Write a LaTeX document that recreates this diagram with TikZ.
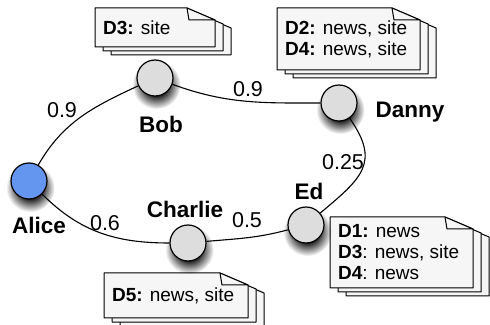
\documentclass[tikz,border=0pt]{standalone}
\usepackage{fontspec}
\setmainfont{Liberation Sans}
\usetikzlibrary{shadows,fadings}
\definecolor{usergray}{HTML}{DDDDDD}
\definecolor{seedblue}{RGB}{100,150,240}
\definecolor{sheetgray}{HTML}{F6F6F6}
\pgfdeclareradialshading{softshade}{\pgfpointorigin}{color(0bp)=(pgftransparent!0);
    color(11bp)=(pgftransparent!0); color(25bp)=(pgftransparent!100); color(50bp)=(pgftransparent!100)}
\pgfdeclarefading{softedge}{\pgfuseshading{softshade}}
\tikzstyle{user} = [draw=black, line width=1.2pt, circle, minimum size=36pt,
    inner sep=0pt, fill=usergray,
    circular drop shadow={shadow xshift=1pt, shadow yshift=-5pt, shadow scale=1.35,
    fill=black, opacity=.9, path fading=softedge}]
\tikzstyle{seed} = [user, fill=seedblue]
\tikzstyle{username} = [font=\fontsize{22.5}{25}\selectfont\bfseries, anchor=base, inner sep=0pt]
\tikzstyle{weight} = [font=\fontsize{21.5}{24}\selectfont, anchor=base, inner sep=0pt]
\tikzstyle{link} = [line width=1.1pt]
\tikzstyle{sheet} = [draw=black, line width=1pt, fill=sheetgray, line join=round]
\tikzstyle{doctext} = [font=\fontsize{19}{21}\selectfont, align=left, anchor=west, inner sep=0pt]
\tikzset{pics/docstack/.style n args={3}{code={
    \foreach \k in {2,1,0}
        \draw[sheet] (8*\k,-4*\k) -- ++(#1,0) -- ++(0,#2-12) -- ++(-28,12) -- ++(28-#1,0) -- cycle;
    \draw[sheet] (#1-28,#2) -- (#1-26,#2-12) -- (#1,#2-12) -- cycle;
    \node[doctext] (-txt) at (8,#2/2) {#3};
}}}

\begin{document}
\begin{tikzpicture}[x=1pt, y=1pt]
\useasboundingbox (0,0) rectangle (490,324);

\pic (bobdocs) at (95,277) {docstack={120}{39}{\textbf{D3:} site}};
\pic (dannydocs) at (277,254) {docstack={143}{62}{\textbf{D2:} news, site\\ \textbf{D4:} news, site}};
\pic (charliedocs) at (104,6) {docstack={144}{45}{\textbf{D5:} news, site}};
\pic (eddocs) at (330,36) {docstack={143}{71}{\textbf{D1:} news\\ \textbf{D3}: news, site\\ \textbf{D4}: news}};

\node[seed] (alice) at (29,143) {};
\node[user] (bob) at (155,246) {};
\node[user] (danny) at (339,221) {};
\node[user] (charlie) at (188,81) {};
\node[user] (ed) at (306,99) {};

\node[username] (alice-l) at (39,90) {Alice};
\node[username] (bob-l) at (161,191) {Bob};
\node[username] (danny-l) at (410,206) {Danny};
\node[username] (charlie-l) at (185,106) {Charlie};
\node[username] (ed-l) at (309,124) {Ed};

\draw[link] (alice) to[out=60, in=205] (bob);
\draw[link] (bob) to[out=-20, in=180] (danny);
\draw[link] (danny) to[out=-55, in=40, looseness=1.4] (ed);
\draw[link] (alice) to[out=-45, in=180] (charlie);
\draw[link] (charlie) to[out=5, in=195] (ed);

\node[weight] (ab-w) at (62,206) {0.9};
\node[weight] (bd-w) at (248,227) {0.9};
\node[weight] (de-w) at (343,154) {0.25};
\node[weight] (ac-w) at (105,93) {0.6};
\node[weight] (ce-w) at (247,96) {0.5};
\end{tikzpicture}
\end{document}
